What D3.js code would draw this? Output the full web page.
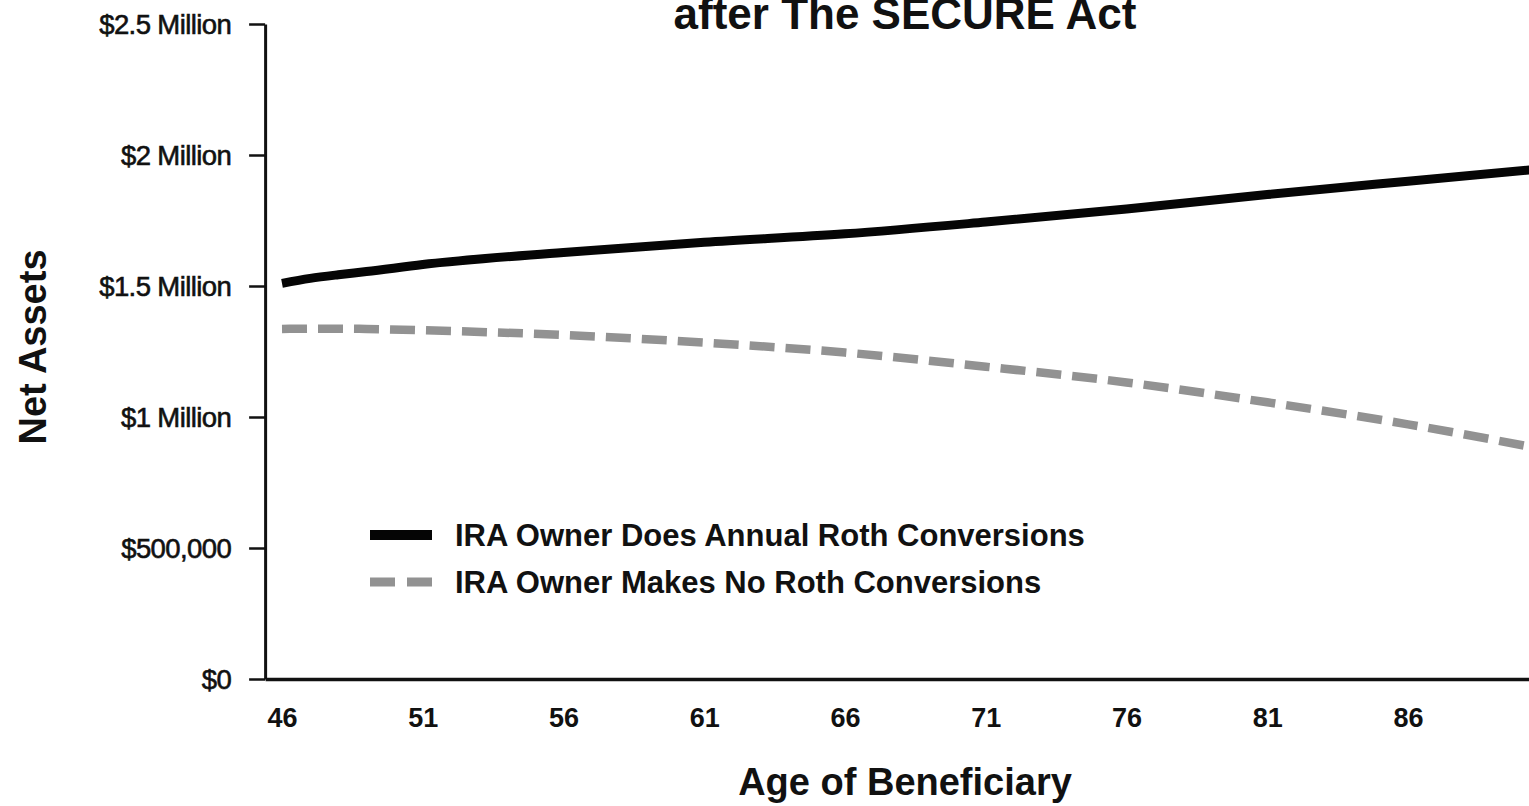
<!DOCTYPE html>
<html>
<head>
<meta charset="utf-8">
<script src="https://cdn.jsdelivr.net/npm/d3@7"></script>
<style>
  html, body { margin: 0; padding: 0; background: #ffffff; }
  svg { display: block; }
  text { font-family: "Liberation Sans", Arial, Helvetica, sans-serif; fill: #111; }
</style>
</head>
<body>
<svg id="chart" width="1529" height="806"></svg>
<script>
// Beneficiary age (years)
const ages = [46, 47, 48, 49, 51, 56, 61, 66, 71, 76, 81, 86, 91];
// Net assets (USD) when the IRA owner converts to Roth every year
const rothConversions = [1510000, 1529000, 1543000, 1555000, 1582000, 1628000, 1667000, 1699000, 1744000, 1794000, 1849000, 1900000, 1950000];
// Net assets (USD) when the IRA owner makes no conversions
const noConversions = [1336000, 1337000, 1337000, 1336000, 1331000, 1313000, 1284000, 1246000, 1192000, 1132000, 1056000, 972000, 873000];

const seriesNames = ["IRA Owner Does Annual Roth Conversions", "IRA Owner Makes No Roth Conversions"];
const xTicks = [46, 51, 56, 61, 66, 71, 76, 81, 86];
const yTicks = [0, 500000, 1000000, 1500000, 2000000, 2500000];
const yTickLabels = ["$0", "$500,000", "$1 Million", "$1.5 Million", "$2 Million", "$2.5 Million"];
const titleText = "after The SECURE Act";
const xTitle = "Age of Beneficiary";
const yTitle = "Net Assets";

const svg = d3.select("#chart");

const x = d3.scaleLinear().domain([46, 86]).range([282, 1408]);
const xAxisScale = x.copy().domain([45.4, 93]).range([x(45.4), x(93)]);
const y = d3.scaleLinear().domain([0, 2500000]).range([679, 24]);

// Title (second line of the heading)
svg.append("text")
  .attr("x", 905).attr("y", 29)
  .attr("text-anchor", "middle")
  .style("font-size", "44px").style("font-weight", "bold")
  .text(titleText);

// Y axis
const yAxis = svg.append("g")
  .attr("transform", `translate(${xAxisScale(45.4)},0)`)
  .call(d3.axisLeft(y).tickValues(yTicks)
    .tickFormat((d, i) => yTickLabels[i])
    .tickSize(16).tickPadding(18).tickSizeOuter(0));
yAxis.select(".domain").attr("stroke", "#111").attr("stroke-width", 3);
yAxis.selectAll(".tick line").attr("stroke", "#111").attr("stroke-width", 2.5);
yAxis.selectAll(".tick text")
  .style("font-size", "27.5px")
  .style("font-family", "\"Liberation Sans\", Arial, sans-serif")
  .style("letter-spacing", "-0.6px")
  .attr("fill", "#111").attr("stroke", "#111").attr("stroke-width", 0.6)
  .attr("dy", "0.36em");

// X axis (labels only, no tick marks)
const xAxis = svg.append("g")
  .attr("transform", `translate(0,${y(0)})`)
  .call(d3.axisBottom(xAxisScale).tickValues(xTicks)
    .tickFormat(d3.format("d"))
    .tickSize(0).tickPadding(29).tickSizeOuter(0));
xAxis.select(".domain").attr("stroke", "#111").attr("stroke-width", 3.5);
xAxis.selectAll(".tick text")
  .style("font-size", "27px").style("font-weight", "bold")
  .style("font-family", "\"Liberation Sans\", Arial, sans-serif")
  .attr("fill", "#111");

// Axis titles
svg.append("text")
  .attr("x", 905).attr("y", 795)
  .attr("text-anchor", "middle")
  .style("font-size", "38px").style("font-weight", "bold")
  .text(xTitle);

svg.append("text")
  .attr("transform", "translate(46,347) rotate(-90)")
  .attr("text-anchor", "middle")
  .style("font-size", "38px").style("font-weight", "bold")
  .text(yTitle);

// Lines
const line = d3.line()
  .x(d => x(d.age))
  .y(d => y(d.value))
  .curve(d3.curveMonotoneX);

const rothData = ages.map((a, i) => ({ age: a, value: rothConversions[i] }));
const noneData = ages.map((a, i) => ({ age: a, value: noConversions[i] }));

svg.append("path")
  .datum(noneData)
  .attr("d", line)
  .attr("fill", "none")
  .attr("stroke", "#929292")
  .attr("stroke-width", 8.5)
  .attr("stroke-dasharray", "25 11");

svg.append("path")
  .datum(rothData)
  .attr("d", line)
  .attr("fill", "none")
  .attr("stroke", "#050505")
  .attr("stroke-width", 9);

// Legend
const legend = svg.append("g");
const legendRows = [
  { name: seriesNames[0], color: "#050505", dash: null, y: 535 },
  { name: seriesNames[1], color: "#929292", dash: "25 12", y: 582 }
];
legendRows.forEach(r => {
  legend.append("line")
    .attr("x1", 370).attr("x2", 432)
    .attr("y1", r.y).attr("y2", r.y)
    .attr("stroke", r.color)
    .attr("stroke-width", r.dash ? 9 : 10)
    .attr("stroke-dasharray", r.dash);
  legend.append("text")
    .attr("x", 455).attr("y", r.y + 11)
    .style("font-size", "31px").style("font-weight", "bold")
    .text(r.name);
});
</script>
</body>
</html>
